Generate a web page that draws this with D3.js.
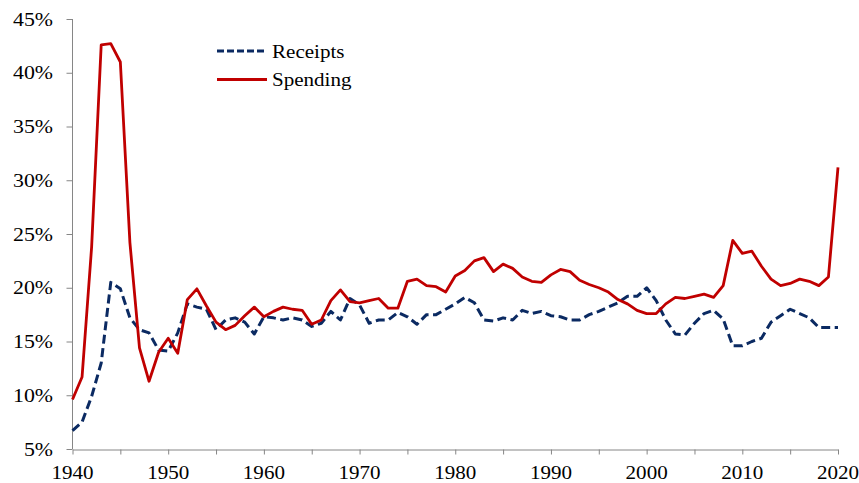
<!DOCTYPE html>
<html>
<head>
<meta charset="utf-8">
<script src="https://cdn.jsdelivr.net/npm/d3@7"></script>
<style>
  body { margin: 0; background: #fff; }
  svg { display: block; }
  .axis path, .axis line { stroke: #868686; stroke-width: 1; }
  .lbl { font-family: "Liberation Serif", "Times New Roman", serif; font-size: 19.5px; fill: #000; }
</style>
</head>
<body>
<svg id="chart" width="859" height="483"></svg>
<script>
var years = d3.range(1940, 2021);

// federal receipts, % of GDP
var receipts = [6.7, 7.5, 9.9, 13.0, 20.5, 19.9, 17.2, 16.1, 15.8, 14.2,
    14.1, 15.8, 18.5, 18.2, 18.0, 16.1, 17.0, 17.2, 16.8, 15.7,
    17.3, 17.2, 17.0, 17.2, 17.0, 16.4, 16.7, 17.8, 17.0, 19.0,
    18.4, 16.7, 17.0, 17.0, 17.7, 17.3, 16.6, 17.5, 17.5, 18.0,
    18.5, 19.1, 18.6, 17.0, 16.9, 17.2, 17.0, 17.9, 17.6, 17.8,
    17.4, 17.3, 17.0, 17.0, 17.5, 17.8, 18.2, 18.6, 19.2, 19.2,
    20.0, 18.8, 17.0, 15.7, 15.6, 16.7, 17.6, 17.9, 17.1, 14.6,
    14.6, 15.0, 15.3, 16.8, 17.4, 18.0, 17.6, 17.2, 16.3, 16.3,
    16.3];

// federal spending, % of GDP
var spending = [9.6, 11.7, 23.8, 42.6, 42.7, 41.0, 24.2, 14.4, 11.3, 14.0,
    15.3, 13.9, 18.9, 19.9, 18.3, 16.8, 16.1, 16.5, 17.4, 18.2,
    17.3, 17.8, 18.2, 18.0, 17.9, 16.6, 17.0, 18.8, 19.8, 18.7,
    18.6, 18.8, 19.0, 18.1, 18.1, 20.6, 20.8, 20.2, 20.1, 19.6,
    21.1, 21.6, 22.5, 22.8, 21.5, 22.2, 21.8, 21.0, 20.6, 20.5,
    21.2, 21.7, 21.5, 20.7, 20.3, 20.0, 19.6, 18.9, 18.5, 17.9,
    17.6, 17.6, 18.5, 19.1, 19.0, 19.2, 19.4, 19.1, 20.2, 24.4,
    23.2, 23.4, 22.0, 20.8, 20.2, 20.4, 20.8, 20.6, 20.2, 21.0,
    31.2];

var yTicks = [5, 10, 15, 20, 25, 30, 35, 40, 45];
var xTicks = d3.range(1940, 2021, 5);
var xLabels = d3.range(1940, 2021, 10);

var seriesNames = ['Receipts', 'Spending'];

var svg = d3.select('#chart');

var x = d3.scaleLinear().domain([1940, 2020]).range([72.5, 838]);
var y = d3.scaleLinear().domain([5, 45]).range([449, 19]);

// axes
svg.append('g')
    .attr('class', 'axis')
    .attr('transform', 'translate(72.5,0)')
    .call(d3.axisLeft(y).tickValues(yTicks).tickSize(6).tickSizeOuter(0).tickFormat(''))
    .select('.domain').attr('d', 'M0,' + y(45) + 'V' + y(5));

svg.append('g')
    .attr('class', 'axis')
    .attr('transform', 'translate(0,449.5)')
    .call(d3.axisBottom(x).tickValues(xTicks).tickSize(5).tickSizeOuter(0).tickFormat(''));

svg.selectAll('.axis text').remove();

// tick labels (slightly wide serif, like the original)
svg.selectAll('.ylbl')
    .data(yTicks)
    .enter().append('text')
    .attr('class', 'lbl')
    .attr('text-anchor', 'end')
    .attr('transform', function (d) { return 'translate(53,' + (y(d) + 6.5) + ') scale(1.12,1)'; })
    .text(function (d) { return d + '%'; });

svg.selectAll('.xlbl')
    .data(xLabels)
    .enter().append('text')
    .attr('class', 'lbl')
    .attr('text-anchor', 'middle')
    .attr('transform', function (d) { return 'translate(' + x(d) + ',479) scale(1.08,1)'; })
    .text(function (d) { return d; });

var line = d3.line()
    .x(function (d, i) { return x(years[i]); })
    .y(function (d) { return y(d); });

svg.append('path')
    .datum(receipts)
    .attr('d', line)
    .attr('fill', 'none')
    .attr('stroke', '#0b2a62')
    .attr('stroke-width', 3)
    .attr('stroke-dasharray', '9,4.5')
    .attr('stroke-linejoin', 'round');

svg.append('path')
    .datum(spending)
    .attr('d', line)
    .attr('fill', 'none')
    .attr('stroke', '#c00000')
    .attr('stroke-width', 2.8)
    .attr('stroke-linejoin', 'round');

// legend
var legend = svg.append('g');
legend.append('line')
    .attr('x1', 217).attr('x2', 267).attr('y1', 51).attr('y2', 51)
    .attr('stroke', '#0b2a62').attr('stroke-width', 3).attr('stroke-dasharray', '7,3');
legend.append('line')
    .attr('x1', 217).attr('x2', 267).attr('y1', 79.5).attr('y2', 79.5)
    .attr('stroke', '#c00000').attr('stroke-width', 3);
legend.selectAll('.leg')
    .data(seriesNames)
    .enter().append('text')
    .attr('class', 'lbl')
    .attr('transform', function (d, i) { return 'translate(272,' + (57.5 + i * 28) + ') scale(1.08,1)'; })
    .text(function (d) { return d; });
</script>
</body>
</html>
